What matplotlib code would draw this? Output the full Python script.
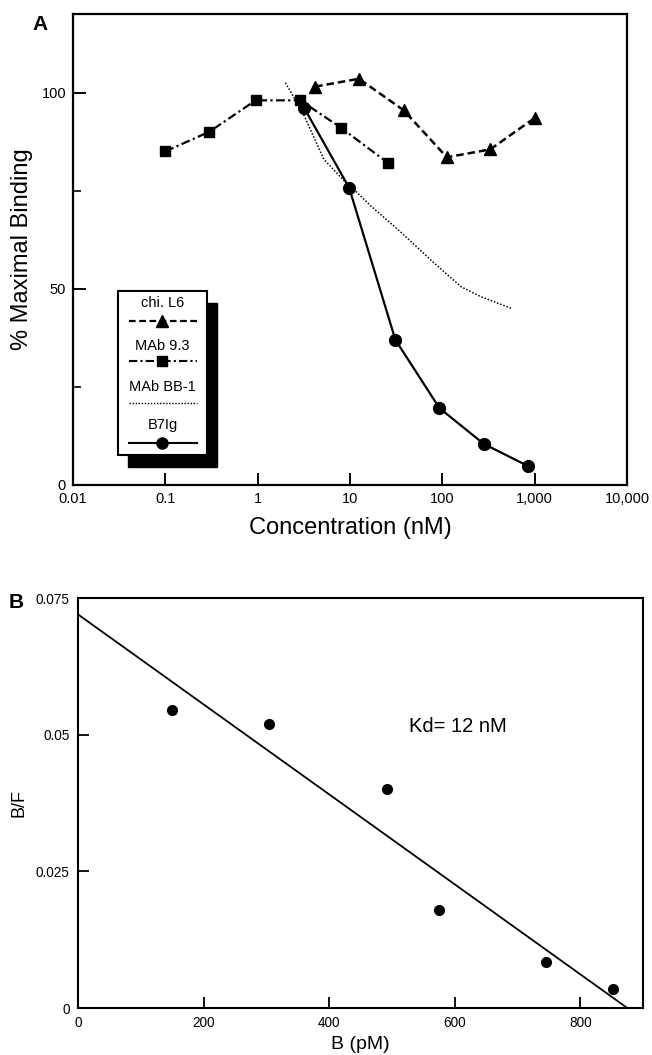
import matplotlib
matplotlib.use("Agg")
import matplotlib.pyplot as plt
from matplotlib.patches import Rectangle
from matplotlib.lines import Line2D
import numpy as np

plt.rcParams['font.family'] = ['Liberation Sans', 'DejaVu Sans']

# ---------------- Panel A data ----------------
chi_x = [4.2, 12.5, 38, 112, 330, 1000]
chi_y = [101.5, 103.5, 95.5, 83.5, 85.5, 93.5]

mab93_x = [0.1, 0.3, 0.95, 2.9, 8.0, 26]
mab93_y = [85, 90, 98, 98, 91, 82]

bb1_x = [2.0, 3.2, 5.2, 8.4, 11.7, 17, 36, 81, 160, 260, 560]
bb1_y = [102.5, 94, 83, 77.8, 74.7, 71, 64.3, 56.6, 50.5, 48, 45]

b7_x = [3.2, 9.8, 31, 93, 280, 850]
b7_y = [96, 75.7, 37, 19.6, 10.5, 4.8]

a_xticks = [0.01, 0.1, 1, 10, 100, 1000, 10000]
a_xticklabels = ['0.01', '0.1', '1', '10', '100', '1,000', '10,000']
a_yticks = [0, 50, 100]

legend_labels = ['chi. L6', 'MAb 9.3', 'MAb BB-1', 'B7Ig']

# ---------------- Panel B data ----------------
b_x = [149, 305, 492, 575, 746, 852]
b_y = [0.0546, 0.052, 0.040, 0.018, 0.0084, 0.0035]
fit_intercept = 0.072
fit_xintercept = 875
b_xticks = [0, 200, 400, 600, 800]
b_yticks = [0, 0.025, 0.05, 0.075]
b_yticklabels = ['0', '0.025', '0.05', '0.075']

fig = plt.figure(figsize=(6.52, 10.55), dpi=100)

# ---------------- Panel A ----------------
axA = fig.add_axes([73/652, 1-485/1055, (627-73)/652, (485-14)/1055])
axA.set_xscale('log')
axA.set_xlim(0.01, 10000)
axA.set_ylim(0, 120)

axA.plot(chi_x, chi_y, color='black', lw=1.8, ls=(0, (3.0, 1.6)),
         marker='^', ms=9, zorder=3)
axA.plot(mab93_x, mab93_y, color='black', lw=1.6, ls=(0, (4, 1.5, 1, 1.5)),
         marker='s', ms=7.5, zorder=3)
axA.plot(bb1_x, bb1_y, color='black', lw=1.1, ls=(0, (1, 1.2)), zorder=2)
axA.plot(b7_x, b7_y, color='black', lw=1.6, ls='-',
         marker='o', ms=8.5, zorder=4)

axA.set_xticks(a_xticks)
axA.set_xticklabels(a_xticklabels)
axA.xaxis.set_minor_locator(matplotlib.ticker.NullLocator())
axA.set_yticks(a_yticks)
axA.set_yticks([25, 75], minor=True)
axA.tick_params(axis='both', which='major', direction='in', length=9, width=1.4,
                labelsize=10.5, pad=5)
axA.tick_params(axis='y', which='minor', direction='in', length=6, width=1.2)
axA.tick_params(top=False, right=False)
for s in axA.spines.values():
    s.set_linewidth(1.6)

axA.set_xlabel('Concentration (nM)', fontsize=17, labelpad=8)
axA.set_ylabel('% Maximal Binding', fontsize=17, labelpad=6)
fig.text(40/652, 1-24/1055, 'A', fontsize=15, fontweight='bold', ha='center', va='center')

# Custom legend box with drop shadow
T = axA.transAxes
bx0, bx1, by0, by1 = 0.081, 0.242, 0.064, 0.412
shadow = Rectangle((bx0 + 0.018, by0 - 0.026), bx1 - bx0, by1 - by0,
                   transform=T, facecolor='black', edgecolor='black', zorder=5)
box = Rectangle((bx0, by0), bx1 - bx0, by1 - by0, transform=T,
                facecolor='white', edgecolor='black', lw=1.5, zorder=6)
axA.add_patch(shadow)
axA.add_patch(box)
text_y = [0.386, 0.295, 0.208, 0.127]
line_y = [0.348, 0.263, 0.174, 0.089]
styles = [dict(ls=(0, (3.0, 1.6)), lw=1.6, marker='^', ms=8),
          dict(ls=(0, (4, 1.5, 1, 1.5)), lw=1.5, marker='s', ms=7),
          dict(ls=(0, (1, 1.2)), lw=1.0, marker=None, ms=0),
          dict(ls='-', lw=1.5, marker='o', ms=8)]
cx = (bx0 + bx1) / 2
for lab, ty, ly, st in zip(legend_labels, text_y, line_y, styles):
    axA.text(cx, ty, lab, transform=T, ha='center', va='center',
             fontsize=10.5, zorder=7)
    axA.add_line(Line2D([0.101, 0.224], [ly, ly], transform=T, color='black',
                        lw=st['lw'], ls=st['ls'], zorder=7))
    if st['marker']:
        axA.add_line(Line2D([cx], [ly], transform=T, color='black',
                            marker=st['marker'], ms=st['ms'], ls='none', zorder=8))

# ---------------- Panel B ----------------
axB = fig.add_axes([78/652, 1-1008/1055, (643-78)/652, (1008-598)/1055])
axB.set_xlim(0, 900)
axB.set_ylim(0, 0.075)
fit_x = np.array([0, fit_xintercept])
fit_y = fit_intercept * (1 - fit_x / fit_xintercept)
axB.plot(fit_x, fit_y, color='black', lw=1.3)
axB.plot(b_x, b_y, ls='none', marker='o', ms=7, color='black')
axB.set_xticks(b_xticks)
axB.set_yticks(b_yticks)
axB.set_yticklabels(b_yticklabels)
axB.tick_params(axis='both', direction='in', length=8, width=1.3,
                labelsize=9.8, pad=6)
for s in axB.spines.values():
    s.set_linewidth(1.5)
axB.set_xlabel('B (pM)', fontsize=14, labelpad=4)
axB.set_ylabel('B/F', fontsize=13, labelpad=6)
axB.text(527, 0.0515, 'Kd= 12 nM', fontsize=14.5, ha='left', va='center')
fig.text(16/652, 1-602/1055, 'B', fontsize=15, fontweight='bold', ha='center', va='center')

fig.savefig('out.png', dpi=100)
